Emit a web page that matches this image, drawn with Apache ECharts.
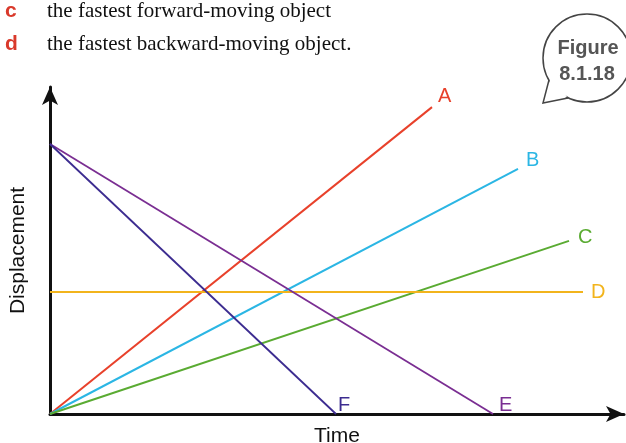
<!DOCTYPE html>
<html lang="en">
<head>
  <meta charset="UTF-8">
  <title>Figure 8.1.18</title>
  <script src="https://cdn.jsdelivr.net/npm/echarts@6/dist/echarts.min.js"></script>
  <style>
    html, body { margin: 0; padding: 0; background: #fff; }
  </style>
</head>
<body>
  <div id="main" style="width:626px;height:443px;"></div>
  <script>
  // each object: [time, displacement] at start and end
  var names = ['A', 'B', 'C', 'D', 'E', 'F']
  var lineA = [[0, 0], [7.64, 10.23]]
  var lineB = [[0, 0], [9.36, 8.17]]
  var lineC = [[0, 0], [10.38, 5.77]]
  var lineD = [[0, 4.07], [10.66, 4.07]]
  var lineE = [[0, 9.0], [8.86, 0]]
  var lineF = [[0, 9.0], [5.72, 0]]
  var questions = [
    ['c', 'the fastest forward-moving object'],
    ['d', 'the fastest backward-moving object.']
  ]

  var colors = ['#e8412b', '#2bb6e4', '#5aab32', '#f2b41c', '#7a2e92', '#3c2c90']
  var labelOffsets = [[-2, -11], [0, -8], [1, -3], [0, 1], [-2, -9], [-6, -9]]
  var lines = [lineA, lineB, lineC, lineD, lineE, lineF]

  var series = names.map(function (name, i) {
    return {
      name: name,
      type: 'line',
      symbol: 'none',
      silent: true,
      lineStyle: { color: colors[i], width: i >= 4 ? 1.8 : 2 },
      endLabel: {
        show: true,
        distance: 8,
        offset: labelOffsets[i],
        formatter: name,
        color: colors[i],
        fontFamily: 'Liberation Sans, Arial, sans-serif',
        fontSize: 20
      },
      data: lines[i]
    }
  })

  var graphics = []
  questions.forEach(function (q, i) {
    graphics.push({
      type: 'text', x: 5, y: 11 + i * 33,
      style: { text: q[0], fill: '#d9392b', verticalAlign: 'middle',
        font: 'bold 21px "Liberation Sans", Arial, sans-serif' }
    })
    graphics.push({
      type: 'text', x: 47, y: 11 + i * 33,
      style: { text: q[1], fill: '#111', verticalAlign: 'middle',
        font: '21px "Liberation Serif", "Times New Roman", serif' }
    })
  })
  // speech bubble
  graphics.push({
    type: 'circle',
    shape: { cx: 587, cy: 58, r: 44 },
    style: { fill: '#fff', stroke: '#444', lineWidth: 1.5 }
  })
  graphics.push({
    type: 'polygon',
    shape: { points: [[550, 79], [545, 101], [567, 97], [561, 88]] },
    style: { fill: '#fff' }
  })
  graphics.push({
    type: 'polyline',
    shape: { points: [[549, 80], [543, 103], [568, 98]] },
    style: { stroke: '#444', lineWidth: 1.5, fill: null }
  })
  graphics.push({
    type: 'text', x: 588, y: 48,
    style: { text: 'Figure', fill: '#555', align: 'center', verticalAlign: 'middle',
      font: 'bold 20px "Liberation Sans", Arial, sans-serif' }
  })
  graphics.push({
    type: 'text', x: 587, y: 74,
    style: { text: '8.1.18', fill: '#555', align: 'center', verticalAlign: 'middle',
      font: 'bold 20px "Liberation Sans", Arial, sans-serif' }
  })

  var myChart = echarts.init(document.getElementById('main'))
  var option = {
    animation: false,
    graphic: graphics,
    grid: { left: 50, top: 87, bottom: 29, right: 2, containLabel: false, outerBoundsMode: 'none' },
    xAxis: {
      type: 'value', min: 0, max: 11.48,
      name: 'Time', nameLocation: 'middle', nameGap: 12,
      nameTextStyle: { color: '#111', fontSize: 21, fontFamily: 'Liberation Sans, Arial, sans-serif' },
      axisLine: { lineStyle: { color: '#111', width: 3 }, symbol: ['none', 'arrow'], symbolSize: [12, 18] },
      axisTick: { show: false }, axisLabel: { show: false }, splitLine: { show: false }
    },
    yAxis: {
      type: 'value', min: 0, max: 10.9,
      name: 'Displacement', nameLocation: 'middle', nameGap: 21,
      nameTextStyle: { color: '#111', fontSize: 21, fontFamily: 'Liberation Sans, Arial, sans-serif' },
      axisLine: { lineStyle: { color: '#111', width: 3 }, symbol: ['none', 'arrow'], symbolSize: [12, 18] },
      axisTick: { show: false }, axisLabel: { show: false }, splitLine: { show: false }
    },
    series: series
  }
  myChart.setOption(option)
  </script>
</body>
</html>
